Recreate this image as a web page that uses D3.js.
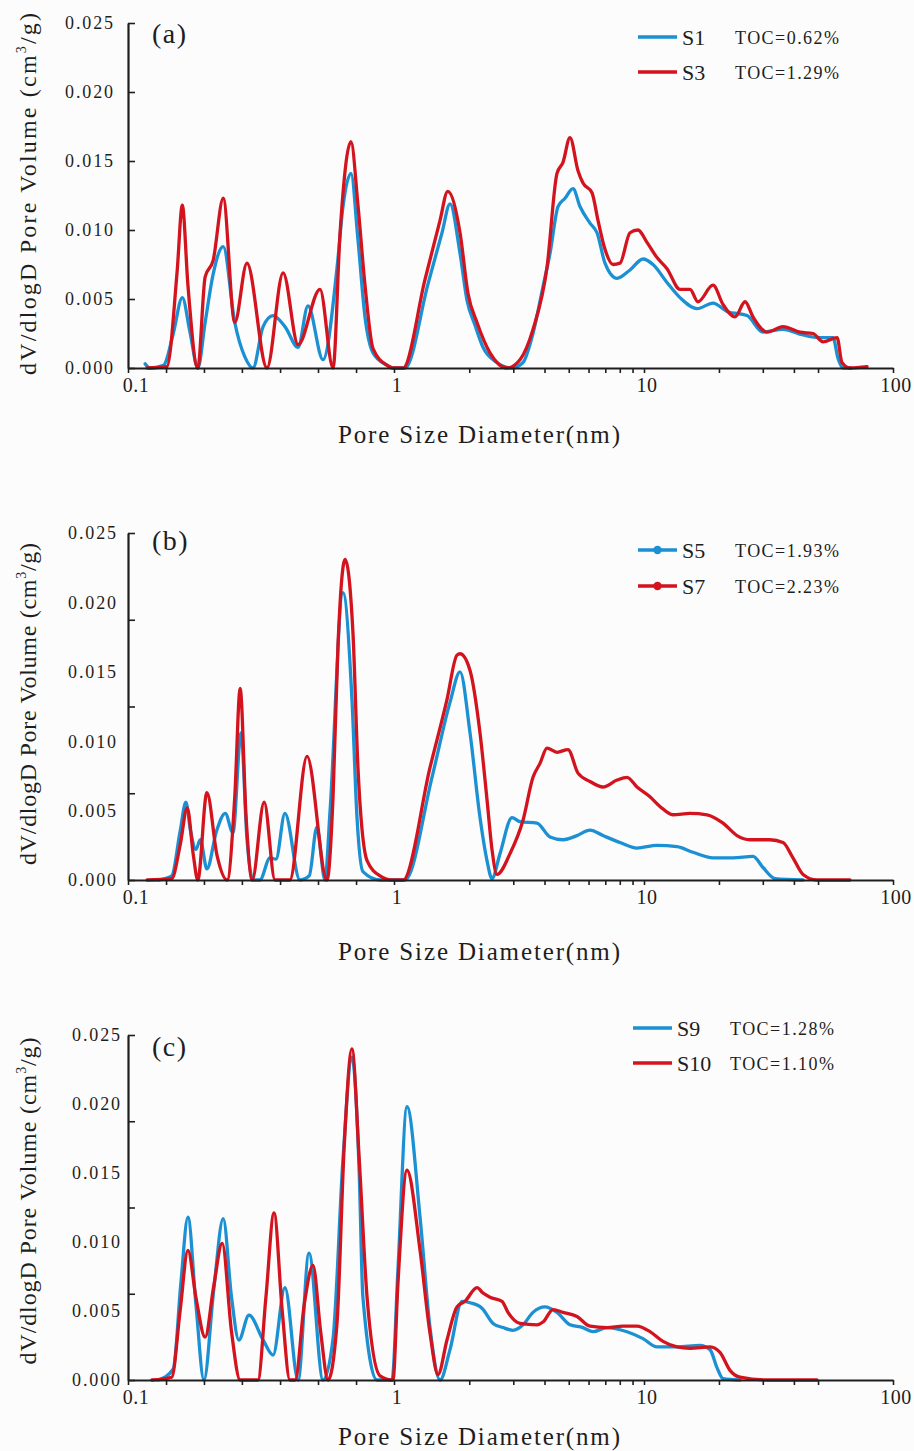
<!DOCTYPE html>
<html>
<head>
<meta charset="utf-8">
<script src="https://cdn.jsdelivr.net/npm/d3@7"></script>
<style>
  body { margin: 0; background: #fcfcfc; }
  text { font-family: "Liberation Serif", "Times New Roman", serif; fill: #1e1e1e; }
</style>
</head>
<body>
<svg id="fig" width="914" height="1451"></svg>
<script>
// ---- axis values ----
const xMajorTicks = [0.1, 1, 10, 100];
const xTickLabels = ["0.1", "1", "10", "100"];
const xMinorTicks = [0.139, 0.193, 0.268, 0.373, 0.518, 0.720,
                     2, 3, 4, 5, 6, 7, 8, 9,
                     20, 30, 40, 50];
const yTickLabelValues = [0, 0.005, 0.010, 0.015, 0.020, 0.025];
const yTickMarksA = [0, 0.005, 0.010, 0.015, 0.020, 0.025];
const yTickMarksBC = [0, 0.00625, 0.0125, 0.01875, 0.025];

// ---- legend entries ----
const panelLetters = ["(a)", "(b)", "(c)"];
const sampleNames = [["S1", "S3"], ["S5", "S7"], ["S9", "S10"]];
const tocLabels = [["TOC=0.62%", "TOC=1.29%"], ["TOC=1.93%", "TOC=2.23%"], ["TOC=1.28%", "TOC=1.10%"]];

// ---- pore size distributions: [diameter nm, dV/dlogD cm3/g] ----
const S1 = [[0.116,0.0003],[0.121,0.0],[0.136,0.0002],[0.148,0.0025],[0.160,0.0051],[0.171,0.0026],[0.183,0.0],
  [0.195,0.0033],[0.209,0.0068],[0.228,0.0088],[0.252,0.0033],[0.275,0.0008],[0.295,0.0],[0.322,0.0030],
  [0.351,0.0038],[0.389,0.0030],[0.436,0.0015],[0.475,0.0045],[0.541,0.0006],[0.611,0.0073],[0.643,0.0117],
  [0.689,0.0141],[0.732,0.0093],[0.778,0.0037],[0.834,0.0011],[0.941,0.0002],[0.991,0.0],[1.107,0.0],
  [1.368,0.0061],[1.556,0.0098],[1.675,0.0119],[1.837,0.0083],[1.959,0.0049],[2.109,0.0031],[2.270,0.0015],
  [2.582,0.0004],[2.965,0.0],[3.281,0.0004],[3.597,0.0025],[3.945,0.0059],[4.207,0.0083],[4.529,0.0117],
  [4.831,0.0123],[5.200,0.0130],[5.546,0.0117],[6.081,0.0105],[6.486,0.0098],[6.982,0.0076],[7.798,0.0065],
  [8.790,0.0071],[9.908,0.0079],[10.87,0.0075],[12.37,0.0062],[13.95,0.0051],[16.33,0.0043],[18.93,0.0047],
  [21.55,0.0041],[25.93,0.0038],[30.06,0.0026],[36.15,0.0028],[43.51,0.0024],[50.91,0.0022],[57.43,0.0022],
  [60.13,0.0007],[62.95,0.0],[68.0,0.0]];
const S3 = [[0.118,0.0],[0.140,0.0001],[0.153,0.0070],[0.160,0.0118],[0.168,0.0060],[0.183,0.0],[0.195,0.0066],
  [0.209,0.0078],[0.228,0.0123],[0.252,0.0033],[0.280,0.0076],[0.333,0.0],[0.383,0.0069],[0.436,0.0017],
  [0.527,0.0057],[0.590,0.0],[0.627,0.0098],[0.689,0.0164],[0.732,0.0118],[0.778,0.0060],[0.834,0.0014],
  [0.941,0.0002],[0.991,0.0],[1.087,0.0],[1.33,0.0064],[1.528,0.0107],[1.64,0.0128],[1.837,0.0098],
  [1.977,0.0054],[2.148,0.0033],[2.421,0.0011],[2.831,0.0],[3.191,0.0006],[3.597,0.0028],[4.093,0.0073],
  [4.487,0.0141],[4.742,0.0149],[5.058,0.0167],[5.445,0.0143],[5.702,0.0134],[6.194,0.0127],[6.546,0.0107],
  [6.982,0.0086],[7.516,0.0075],[8.017,0.0076],[8.790,0.0098],[9.462,0.0100],[10.28,0.0091],[11.28,0.0080],
  [12.37,0.0072],[13.95,0.0057],[15.30,0.0057],[16.48,0.0048],[18.93,0.0060],[20.77,0.0046],[23.21,0.0037],
  [25.45,0.0048],[27.41,0.0037],[31.19,0.0026],[36.15,0.0030],[42.32,0.0026],[47.73,0.0025],[52.35,0.0019],
  [59.62,0.0022],[62.37,0.0004],[67.14,0.0],[78.63,0.0001]];
const S5 = [[0.130,0.0],[0.146,0.0003],[0.157,0.0035],[0.165,0.0056],[0.172,0.0035],[0.180,0.0022],[0.187,0.0029],
  [0.198,0.0008],[0.215,0.0035],[0.232,0.0048],[0.248,0.0034],[0.266,0.0106],[0.280,0.0030],[0.295,0.0],
  [0.313,0.0],[0.342,0.0016],[0.360,0.0015],[0.389,0.0048],[0.443,0.0],[0.480,0.0003],[0.513,0.0038],
  [0.550,0.0],[0.575,0.0050],[0.643,0.0207],[0.695,0.0130],[0.726,0.0045],[0.764,0.0006],[0.886,0.0],
  [1.107,0.0],[1.419,0.0074],[1.675,0.0128],[1.837,0.0150],[2.014,0.0106],[2.208,0.0045],[2.355,0.0014],
  [2.466,0.0001],[2.655,0.0019],[2.965,0.0045],[3.191,0.0042],[3.733,0.0041],[4.207,0.0031],[4.742,0.0029],
  [5.395,0.0032],[6.081,0.0036],[6.855,0.0032],[8.017,0.0027],[9.376,0.0023],[11.28,0.0025],[13.57,0.0024],
  [15.73,0.0020],[18.93,0.0016],[22.76,0.0016],[27.41,0.0017],[30.06,0.0009],[33.59,0.0001],[43.51,0.0]];
const S7 = [[0.118,0.0],[0.146,0.0001],[0.157,0.0025],[0.167,0.0052],[0.176,0.0018],[0.183,0.0],[0.198,0.0063],
  [0.216,0.0018],[0.236,0.0],[0.252,0.0060],[0.264,0.0138],[0.278,0.0045],[0.293,0.0],[0.325,0.0056],
  [0.357,0.0],[0.406,0.0],[0.471,0.0089],[0.560,0.0],[0.590,0.0060],[0.616,0.0170],[0.655,0.0231],
  [0.701,0.0178],[0.732,0.0081],[0.792,0.0014],[0.886,0.0003],[0.991,0.0],[1.087,0.0],[1.393,0.0081],
  [1.629,0.0130],[1.786,0.0162],[1.837,0.0163],[2.014,0.0151],[2.208,0.0106],[2.355,0.0058],[2.466,0.0022],
  [2.582,0.0004],[2.911,0.0019],[3.281,0.0043],[3.597,0.0074],[3.837,0.0084],[4.093,0.0095],[4.487,0.0092],
  [4.966,0.0094],[5.445,0.0077],[6.081,0.0071],[6.855,0.0067],[7.798,0.0072],[8.551,0.0074],[9.376,0.0067],
  [10.57,0.0060],[11.59,0.0053],[13.07,0.0047],[15.30,0.0048],[17.91,0.0047],[20.77,0.0041],[23.63,0.0032],
  [26.66,0.0029],[32.06,0.0029],[36.15,0.0027],[39.65,0.0016],[43.51,0.0004],[49.5,0.0],[67.14,0.0]];
const S9 = [[0.130,0.0],[0.148,0.0008],[0.158,0.0070],[0.168,0.0118],[0.180,0.0055],[0.193,0.0],[0.210,0.0065],
  [0.228,0.0117],[0.245,0.0060],[0.261,0.0029],[0.285,0.0047],[0.322,0.0029],[0.351,0.0018],[0.389,0.0067],
  [0.436,0.0],[0.479,0.0092],[0.541,0.0],[0.590,0.0030],[0.643,0.0160],[0.695,0.0234],[0.740,0.0150],
  [0.764,0.0060],[0.863,0.0],[0.983,0.0],[1.037,0.0080],[1.127,0.0198],[1.271,0.0118],[1.393,0.0038],
  [1.528,0.0],[1.675,0.0022],[1.871,0.0057],[2.014,0.0056],[2.249,0.0052],[2.489,0.0041],[2.729,0.0038],
  [2.992,0.0036],[3.281,0.0040],[3.597,0.0049],[4.018,0.0053],[4.487,0.0049],[5.058,0.0040],[5.702,0.0038],
  [6.252,0.0035],[7.112,0.0038],[8.551,0.0035],[9.908,0.0030],[11.28,0.0024],[13.57,0.0024],[16.79,0.0025],
  [18.41,0.0022],[19.64,0.0009],[20.77,0.0001],[24.30,0.0]];
const S10 = [[0.123,0.0],[0.146,0.0002],[0.157,0.0050],[0.168,0.0094],[0.180,0.0060],[0.195,0.0031],[0.210,0.0068],
  [0.226,0.0099],[0.245,0.0035],[0.264,0.0],[0.308,0.0],[0.330,0.0060],[0.354,0.0121],[0.380,0.0050],
  [0.406,0.0],[0.425,0.0],[0.460,0.0055],[0.496,0.0083],[0.530,0.0035],[0.565,0.0],[0.610,0.0040],
  [0.650,0.0170],[0.695,0.0240],[0.740,0.0160],[0.792,0.0060],[0.886,0.0003],[0.991,0.0],[1.037,0.0070],
  [1.127,0.0152],[1.271,0.0094],[1.393,0.0034],[1.500,0.0004],[1.629,0.0029],[1.786,0.0053],[1.923,0.0057],
  [2.148,0.0067],[2.270,0.0063],[2.421,0.0060],[2.704,0.0057],[2.858,0.0049],[3.191,0.0041],[3.733,0.0040],
  [3.945,0.0042],[4.325,0.0051],[4.742,0.0049],[5.395,0.0046],[6.081,0.0039],[7.112,0.0038],[8.241,0.0039],
  [9.376,0.0039],[10.57,0.0035],[11.92,0.0028],[13.57,0.0024],[15.30,0.0023],[18.41,0.0024],[20.19,0.0020],
  [22.15,0.0007],[24.30,0.0002],[31.19,0.0],[49.5,0.0]];

// ---- layout ----
const BLUE = "#1b90d2", RED = "#d3131d";
const panels = [
  { top: 23,  bottom: 368,  series: [S1, S3],  yMarks: yTickMarksA,  labelGap: 15, titleCY: 194,  titleLen: 362,
    letterY: 43,   legendY: [37, 72],     legendX: 638, markers: false, xTitleY: 443 },
  { top: 533, bottom: 880,  series: [S5, S7],  yMarks: yTickMarksBC, labelGap: 12, titleCY: 704,  titleLen: 322,
    letterY: 550,  legendY: [550, 586],   legendX: 638, markers: true,  xTitleY: 960 },
  { top: 1035, bottom: 1380, series: [S9, S10], yMarks: yTickMarksBC, labelGap: 8, titleCY: 1201, titleLen: 327,
    letterY: 1056, legendY: [1028, 1063], legendX: 633, markers: false, xTitleY: 1445 }
];

const svg = d3.select("#fig");
svg.append("rect").attr("width", 914).attr("height", 1451).attr("fill", "#fcfcfc");

// piecewise log axis (the first decade is drawn slightly wider)
const x = d3.scaleLog().domain(xMajorTicks).range([128, 394, 644, 893]);

panels.forEach((p, i) => {
  const y = d3.scaleLinear().domain([0, 0.025]).range([p.bottom, p.top]);
  const g = svg.append("g");

  // curves
  const line = d3.line().x(d => x(d[0])).y(d => y(d[1])).curve(d3.curveMonotoneX);
  [BLUE, RED].forEach((c, k) => {
    g.append("path").datum(p.series[k])
      .attr("d", line).attr("fill", "none").attr("stroke", c)
      .attr("stroke-width", 3.3).attr("stroke-linejoin", "round").attr("stroke-linecap", "round");
  });

  // x axis
  const xa = g.append("g").attr("transform", `translate(0,${p.bottom})`)
    .call(d3.axisBottom(x).tickValues(xMajorTicks.concat(xMinorTicks)).tickSize(5).tickSizeOuter(0).tickFormat(""));
  xa.select(".domain").attr("stroke", "#1e1e1e").attr("stroke-width", 2.2);
  xa.selectAll(".tick line").attr("stroke", "#1e1e1e").attr("stroke-width", 1.6);
  g.selectAll(".xlab").data(xMajorTicks).join("text")
    .attr("x", (d, j) => x(d) + (j === 0 ? 8 : 3))
    .attr("y", p.bottom + 24)
    .attr("text-anchor", "middle").attr("font-size", 20).attr("letter-spacing", 0.5)
    .text((d, j) => xTickLabels[j]);

  // y axis
  const ya = g.append("g").attr("transform", "translate(128,0)")
    .call(d3.axisRight(y).tickValues(p.yMarks).tickSize(7).tickSizeOuter(0).tickFormat(""));
  ya.select(".domain").attr("stroke", "#1e1e1e").attr("stroke-width", 2.2);
  ya.selectAll(".tick line").attr("stroke", "#1e1e1e").attr("stroke-width", 1.6);
  g.selectAll(".ylab").data(yTickLabelValues).join("text")
    .attr("x", 128 - p.labelGap).attr("y", d => y(d)).attr("dy", "0.35em")
    .attr("text-anchor", "end").attr("font-size", 18)
    .attr("textLength", 48).attr("lengthAdjust", "spacing")
    .text(d => d3.format(".3f")(d));

  // axis titles
  g.append("text")
    .attr("x", 479).attr("y", p.xTitleY).attr("text-anchor", "middle")
    .attr("font-size", 25).attr("textLength", 282).attr("lengthAdjust", "spacing")
    .text("Pore Size Diameter(nm)");
  const yt = g.append("text")
    .attr("transform", `translate(36,${p.titleCY}) rotate(-90)`)
    .attr("text-anchor", "middle").attr("font-size", 24)
    .attr("textLength", p.titleLen).attr("lengthAdjust", "spacing");
  yt.append("tspan").text("dV/dlogD Pore Volume (cm");
  yt.append("tspan").attr("font-size", 14).attr("dy", -10).text("3");
  yt.append("tspan").attr("dy", 10).text("/g)");

  // panel letter
  g.append("text").attr("x", 152).attr("y", p.letterY)
    .attr("font-size", 28).attr("letter-spacing", 1.5).text(panelLetters[i]);

  // legend
  [BLUE, RED].forEach((c, k) => {
    const ly = p.legendY[k];
    g.append("line").attr("x1", p.legendX).attr("x2", p.legendX + 39)
      .attr("y1", ly).attr("y2", ly).attr("stroke", c).attr("stroke-width", 3.3);
    if (p.markers) {
      g.append("circle").attr("cx", p.legendX + 19.5).attr("cy", ly).attr("r", 4.2).attr("fill", c);
    }
    g.append("text").attr("x", p.legendX + 44).attr("y", ly + 7.5)
      .attr("font-size", 22).text(sampleNames[i][k]);
    g.append("text").attr("x", p.legendX + 97).attr("y", ly + 6.5)
      .attr("font-size", 18).attr("textLength", 104).attr("lengthAdjust", "spacing")
      .text(tocLabels[i][k]);
  });
});
</script>
</body>
</html>
